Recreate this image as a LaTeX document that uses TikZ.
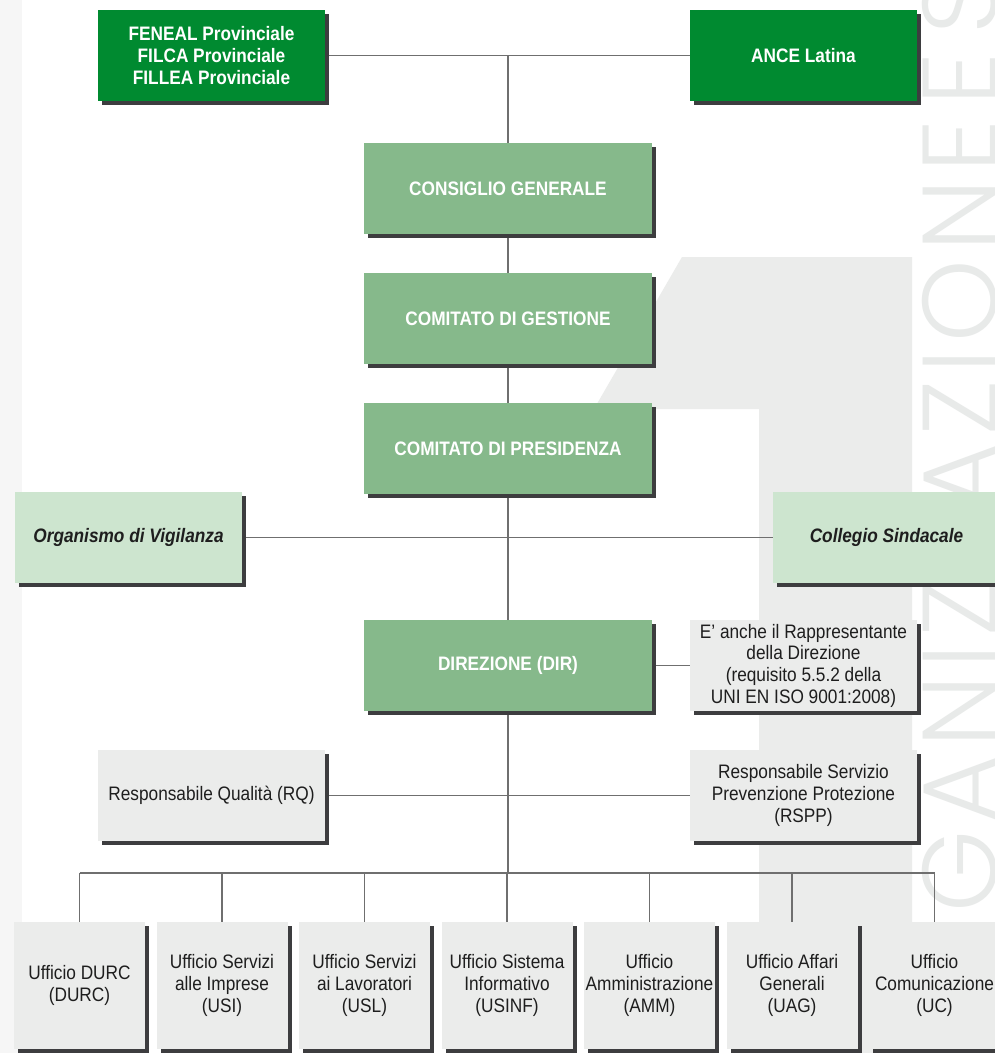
\documentclass[tikz,border=0pt]{standalone}
\usepackage{fontspec}
\setmainfont{Liberation Sans}[FakeStretch=0.885]
\IfFontExistsTF{Poppins-Light.otf}{\newfontfamily\bigthin{Poppins-Light.otf}[LetterSpace=7]}{%
  \IfFontExistsTF{Poppins-Light.ttf}{\newfontfamily\bigthin{Poppins-Light.ttf}[LetterSpace=7]}{\newfontfamily\bigthin{Poppins}[LetterSpace=7]}}
\usetikzlibrary{shadows}
\definecolor{dkgreen}{HTML}{008A30}
\definecolor{mdgreen}{HTML}{86B98B}
\definecolor{ltgreen}{HTML}{CDE5CF}
\definecolor{boxgray}{HTML}{EBECEB}
\definecolor{onegray}{HTML}{EBECEB}
\definecolor{stripc}{HTML}{F6F6F6}
\definecolor{vtextc}{HTML}{E8EAE9}
\definecolor{shadowc}{HTML}{3D3D3F}
\definecolor{linec}{HTML}{6F6F6F}
\definecolor{darktext}{HTML}{1E1E1E}
\pgfdeclarelayer{back}
\pgfdeclarelayer{lines}
\pgfsetlayers{back,lines,main}
\newcommand{\boxfont}{\fontsize{19.5}{21.7}\selectfont}
\tikzset{
  basebox/.style={rectangle, inner sep=0pt, align=center,
    minimum width=227pt, minimum height=91pt,
    drop shadow={shadow xshift=4pt, shadow yshift=-4pt, opacity=1, fill=shadowc},
    font=\boxfont},
  dkbox/.style={basebox, fill=dkgreen, text=white, font=\boxfont\bfseries},
  mdbox/.style={basebox, fill=mdgreen, text=white, minimum width=288pt, font=\boxfont\bfseries},
  ltbox/.style={basebox, fill=ltgreen, text=darktext, font=\boxfont\bfseries\itshape},
  gybox/.style={basebox, fill=boxgray, text=darktext},
  ubox/.style={gybox, minimum width=131pt, minimum height=127pt},
  conn/.style={draw=linec, line width=1.4pt}
}
\begin{document}
\begin{tikzpicture}[x=1pt,y=-1pt]
\useasboundingbox (0,0) rectangle (995,1053);
% nodes
\node[dkbox] (fen) at (211.5,55.5) {FENEAL Provinciale\\FILCA Provinciale\\FILLEA Provinciale};
\node[dkbox] (ance) at (803.5,55.5) {ANCE Latina};
\node[mdbox] (cons) at (508,188.5) {CONSIGLIO GENERALE};
\node[mdbox] (gest) at (508,318.5) {COMITATO DI GESTIONE};
\node[mdbox] (pres) at (508,448.5) {COMITATO DI PRESIDENZA};
\node[ltbox] (org) at (128.5,537.5) {Organismo di Vigilanza};
\node[ltbox] (coll) at (886.5,537.5) {Collegio Sindacale};
\node[mdbox] (dir) at (508,665.5) {DIREZIONE (DIR)};
\node[gybox] (note) at (803.5,665.5) {E’ anche il Rappresentante\\della Direzione\\(requisito 5.5.2 della\\UNI EN ISO 9001:2008)};
\node[gybox] (rq) at (211.5,795.5) {Responsabile Qualità (RQ)};
\node[gybox] (rspp) at (803.5,795.5) {Responsabile Servizio\\Prevenzione Protezione\\(RSPP)};
\node[ubox] (u1) at (79.5,985.5) {Ufficio DURC\\(DURC)};
\node[ubox] (u2) at (222,985.5) {Ufficio Servizi\\alle Imprese\\(USI)};
\node[ubox] (u3) at (364.5,985.5) {Ufficio Servizi\\ai Lavoratori\\(USL)};
\node[ubox] (u4) at (507,985.5) {Ufficio Sistema\\Informativo\\(USINF)};
\node[ubox] (u5) at (649.5,985.5) {Ufficio\\Amministrazione\\(AMM)};
\node[ubox] (u6) at (792,985.5) {Ufficio Affari\\Generali\\(UAG)};
\node[ubox] (u7) at (934.5,985.5) {Ufficio\\Comunicazione\\(UC)};
\coordinate (bus) at (508,873);
% background
\begin{pgfonlayer}{back}
  \fill[white] (0,0) rectangle (995,1053);
  \fill[stripc] (0,0) rectangle (22,1053);
  \fill[onegray] (682,257) -- (912,257) -- (912,1053) -- (759,1053) -- (759,409) -- (594,409) -- cycle;
  \begin{scope}
    \clip (0,0) rectangle (995,1053);
    \node[rotate=90, anchor=base west, text=vtextc, inner sep=0pt,
      font=\bigthin\fontsize{105}{105}\selectfont] (vt) at (996,1072)
      {ORGANIZZAZIONE\hspace{-22pt} E\hspace{-18pt} S};
  \end{scope}
\end{pgfonlayer}
% connectors
\begin{pgfonlayer}{lines}
  \draw[conn] (fen.east) -- (ance.west);
  \draw[conn] (cons.north |- fen.east) -- (cons.north);
  \draw[conn] (cons.south) -- (gest.north);
  \draw[conn] (gest.south) -- (pres.north);
  \draw[conn] (pres.south) -- (dir.north);
  \draw[conn] (org.east) -- (coll.west);
  \draw[conn] (dir.east) -- (note.west);
  \draw[conn] (rq.east) -- (rspp.west);
  \draw[conn] (dir.south) -- (bus);
  \draw[conn] (u1.north |- bus) -- (u7.north |- bus);
  \foreach \u in {u1,u2,u3,u4,u5,u6,u7}{
    \draw[conn] (\u.north |- bus) -- (\u.north);
  }
\end{pgfonlayer}
\end{tikzpicture}
\end{document}
